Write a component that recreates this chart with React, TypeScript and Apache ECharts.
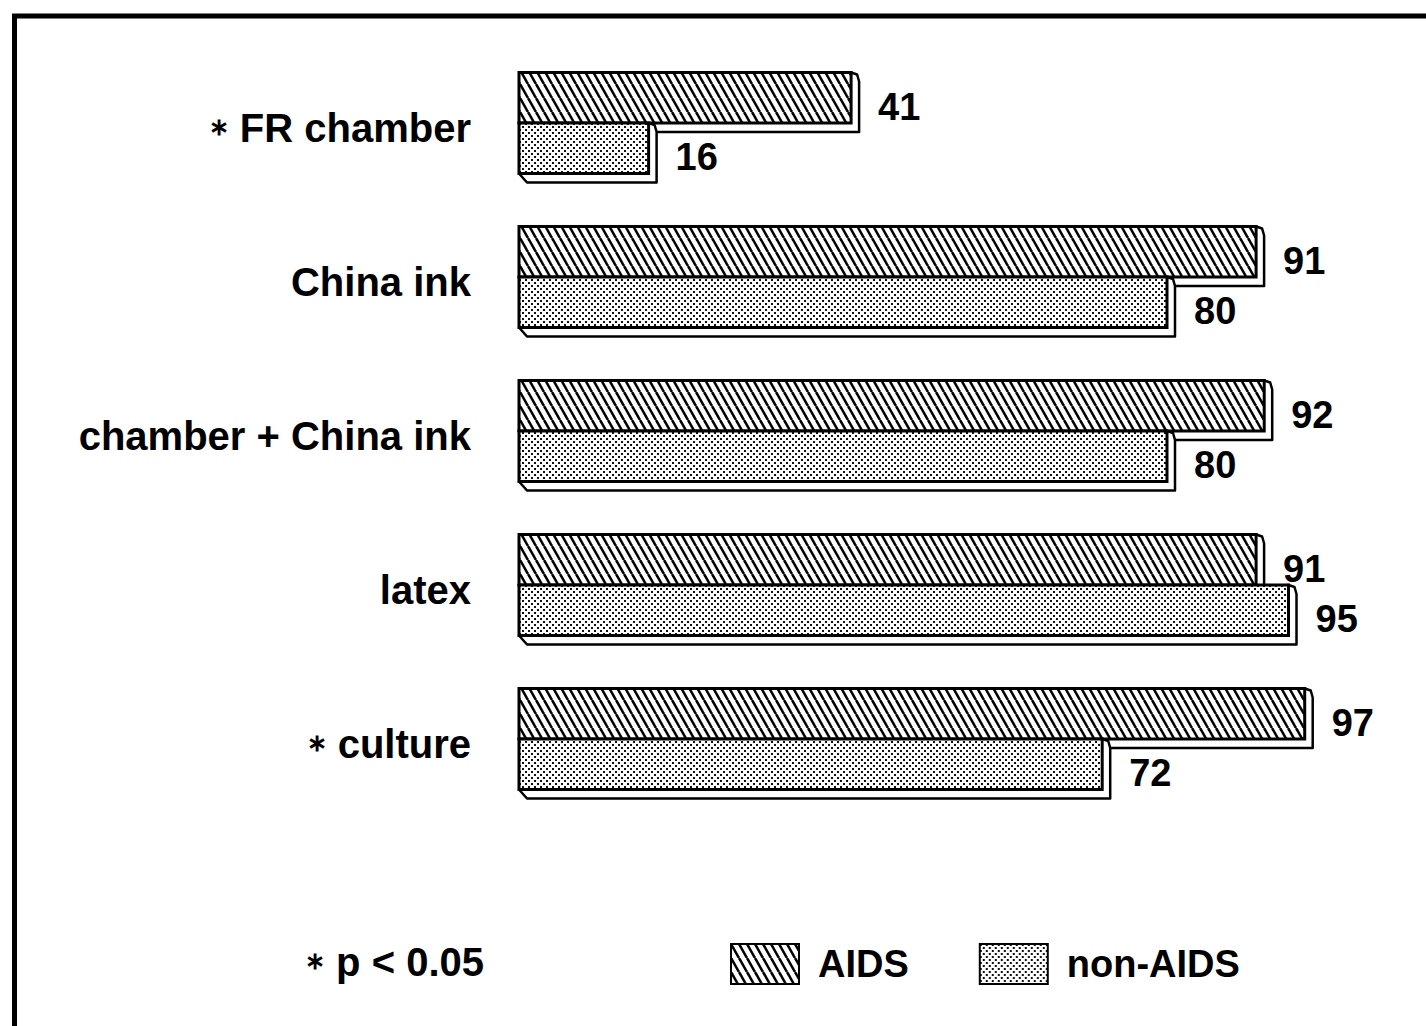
import React, { useEffect, useRef } from "react";
import * as echarts from "echarts";

const categories = ["∗ FR chamber", "China ink", "chamber + China ink", "latex", "∗ culture"];
const aidsValues = [41, 91, 92, 91, 97];
const nonAidsValues = [16, 80, 80, 95, 72];
const seriesNames = ["AIDS", "non-AIDS"];
const footnote = "∗ p < 0.05";

const FONT = "'Liberation Sans', Arial, sans-serif";

function makeHatch() {
  const w = 8, h = 14;
  const c = document.createElement("canvas");
  c.width = w; c.height = h;
  const ctx = c.getContext("2d")!;
  ctx.fillStyle = "#fff";
  ctx.fillRect(0, 0, w, h);
  ctx.strokeStyle = "#000";
  ctx.lineWidth = 2.6;
  for (const dx of [-w, 0, w]) {
    ctx.beginPath();
    ctx.moveTo(dx, 0);
    ctx.lineTo(dx + w, h);
    ctx.stroke();
  }
  return { image: c.toDataURL(), repeat: "repeat", imageWidth: w, imageHeight: h };
}

function makeDots() {
  const s = 6;
  const c = document.createElement("canvas");
  c.width = s; c.height = s;
  const ctx = c.getContext("2d")!;
  ctx.fillStyle = "#fff";
  ctx.fillRect(0, 0, s, s);
  ctx.fillStyle = "#111";
  ctx.fillRect(0, 0, 2, 2);
  ctx.fillRect(3, 3, 2, 2);
  return { image: c.toDataURL(), repeat: "repeat", imageWidth: s, imageHeight: s };
}

function starRich(text: string) {
  if (text.startsWith("∗")) return `{s|∗}{t|${text.slice(1)}}`;
  return `{t|${text}}`;
}

export default function App() {
  const ref = useRef<HTMLDivElement>(null);
  useEffect(() => {
    if (!ref.current) return;
    const chart = echarts.init(ref.current, null, { renderer: "svg" });
    const hatch = makeHatch();
    const dots = makeDots();
    const patterns = [hatch, dots];
    const DX = 8, DY = 9;

    const makeRender = (idx: number) => (params: any, api: any) => {
      const v = api.value(0);
      const c = api.value(1);
      const p1 = api.coord([v, c]);
      const p0 = api.coord([0, c]);
      const band = api.size([0, 1])[1];
      const h = band * 0.328;
      const x0 = p0[0];
      const x1 = p1[0];
      const yc = p1[1];
      const y0 = idx === 0 ? yc - 5 - h : yc - 5;
      const y1 = y0 + h;
      return {
        type: "group",
        children: [
          {
            type: "polygon",
            shape: {
              points: [
                [x1, y0],
                [x1 + DX - 2, y0 + 2],
                [x1 + DX, y0 + DY],
                [x1 + DX, y1 + DY],
                [x0 + DX, y1 + DY],
                [x0, y1],
              ],
            },
            style: { fill: "#fff", stroke: "#000", lineWidth: 2.5, lineJoin: "round" },
          },
          {
            type: "rect",
            shape: { x: x0, y: y0, width: x1 - x0, height: h },
            style: { fill: patterns[idx], stroke: "#000", lineWidth: 3 },
          },
          {
            type: "text",
            style: {
              text: String(v),
              x: x1 + 27,
              y: y0 + h / 2 + 9,
              align: "left",
              verticalAlign: "middle",
              fill: "#000",
              font: `bold 38px ${FONT}`,
            },
          },
        ],
      };
    };

    const rich = {
      s: { fontSize: 24, fontWeight: "bold", fontFamily: FONT, color: "#000", padding: [0, 0, 3, 0] },
      t: { fontSize: 40, fontWeight: "bold", fontFamily: FONT, color: "#000" },
    };
    const richFoot = {
      s: { fontSize: 24, fontWeight: "bold", fontFamily: FONT, color: "#000", padding: [0, 0, 3, 0] },
      t: { fontSize: 40, fontWeight: "bold", fontFamily: FONT, color: "#000" },
    };

    const option: any = {
      animation: false,
      backgroundColor: "#fff",
      grid: { left: 519, top: 51, width: 810, height: 770 },
      xAxis: { type: "value", min: 0, max: 100, show: false },
      yAxis: {
        type: "category",
        inverse: true,
        data: categories,
        axisLine: { show: false },
        axisTick: { show: false },
        splitLine: { show: false },
        axisLabel: {
          margin: 48,
          color: "#000",
          fontSize: 40,
          fontWeight: "bold",
          fontFamily: FONT,
          formatter: (v: string) => starRich(v),
          rich,
        },
      },
      legend: {
        left: 725,
        top: 938,
        itemWidth: 68,
        itemHeight: 40,
        itemGap: 70,
        icon: "rect",
        textStyle: { fontSize: 38, fontWeight: "bold", fontFamily: FONT, color: "#000", padding: [0, 0, 0, 14] },
        data: seriesNames,
        selectedMode: false,
      },
      series: [
        {
          type: "custom",
          name: seriesNames[0],
          renderItem: makeRender(0),
          encode: { x: 0, y: 1 },
          itemStyle: { color: hatch, borderColor: "#000", borderWidth: 3 },
          data: aidsValues.map((v, i) => [v, i]),
          z: 2,
        },
        {
          type: "custom",
          name: seriesNames[1],
          renderItem: makeRender(1),
          encode: { x: 0, y: 1 },
          itemStyle: { color: dots, borderColor: "#000", borderWidth: 3 },
          data: nonAidsValues.map((v, i) => [v, i]),
          z: 3,
        },
      ],
      graphic: [
        {
          type: "rect",
          shape: { x: 14.5, y: 16, width: 1500, height: 1100 },
          style: { fill: "none", stroke: "#000", lineWidth: 5 },
          silent: true,
        },
        {
          type: "text",
          x: 305,
          y: 962,
          style: {
            text: starRich(footnote),
            rich: richFoot,
            font: `bold 40px ${FONT}`,
            fill: "#000",
            verticalAlign: "middle",
            align: "left",
          },
        },
      ],
    };
    chart.setOption(option);
    return () => chart.dispose();
  }, []);
  return (
    <div
      ref={ref}
      style={{ position: "absolute", left: 0, top: 0, width: 1426, height: 1026, background: "#fff" }}
    />
  );
}
